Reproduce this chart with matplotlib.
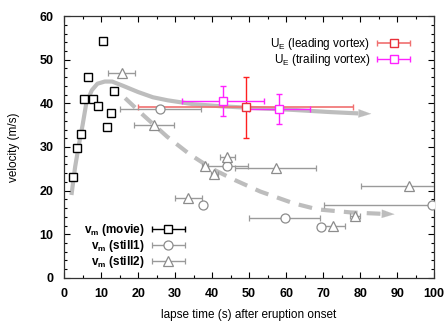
import numpy as np
import matplotlib
matplotlib.use("Agg")
import matplotlib.pyplot as plt
from matplotlib.legend_handler import HandlerErrorbar

plt.rcParams['font.family'] = ['Liberation Sans', 'DejaVu Sans']
plt.rcParams['mathtext.fontset'] = 'custom'
plt.rcParams['mathtext.rm'] = 'Liberation Sans'
plt.rcParams['mathtext.bf'] = 'Liberation Sans:bold'

# v_m from movie frames
t_movie = [2.5, 3.6, 4.5, 5.5, 6.6, 7.7, 9.1, 10.5, 11.5, 12.8, 13.6]
v_movie = [23.1, 29.7, 32.9, 41.1, 46.0, 41.1, 39.5, 54.3, 34.6, 37.9, 42.9]

# v_m from still1
t_still1 = [26.0, 37.6, 43.9, 59.6, 69.5, 99.3]
v_still1 = [38.6, 16.6, 25.6, 13.7, 11.7, 16.6]
e_still1 = [11.0, 0.0, 5.7, 9.5, 0.8, 29.0]

# v_m from still2
t_still2 = [15.6, 24.4, 33.6, 38.1, 40.6, 44.1, 57.2, 72.7, 78.6, 93.2]
v_still2 = [46.9, 35.0, 18.4, 25.7, 23.8, 27.8, 25.1, 11.9, 14.2, 21.1]
e_still2 = [3.6, 5.4, 3.6, 0.8, 1.0, 2.0, 11.0, 3.2, 1.3, 13.0]

# U_E
t_lead, v_lead, te_lead, ve_lead = [49.1], [39.1], [29.0], [7.0]
t_trail = [43.0, 58.2]
v_trail = [40.6, 38.7]
te_trail = [11.0, 8.2]
ve_trail = [3.4, 3.4]

# guide curves (last point = arrow tip)
t_solid = [2.0, 3.0, 4.0, 5.0, 6.0, 7.5, 9.0, 11.0, 13.0, 16.0, 20.0, 24.0,
           28.0, 35.0, 43.0, 52.0, 62.0, 72.0, 79.5, 83.0]
v_solid = [19.0, 25.5, 30.5, 35.0, 40.0, 43.0, 44.5, 45.0, 45.0, 44.0, 42.6,
           41.4, 40.7, 39.8, 39.3, 38.9, 38.5, 38.0, 37.7, 37.6]
t_dash = [16.5, 21.4, 27.8, 34.0, 40.0, 46.2, 53.0, 62.0, 68.5, 77.5, 85.5, 89.3]
v_dash = [41.2, 37.3, 32.4, 28.3, 25.0, 22.4, 19.8, 17.1, 15.7, 15.0, 14.7, 14.6]

curve_c = '#bdbdbd'
gray = '#8c8c8c'

fig = plt.figure(figsize=(4.48, 3.22), dpi=100)
ax = fig.add_axes([0.143, 0.137, 0.826, 0.813])

ax.plot(t_solid[:-1], v_solid[:-1], color=curve_c, lw=3.0, zorder=1,
        solid_capstyle='butt')
ax.annotate('', xy=(t_solid[-1], v_solid[-1]), xytext=(t_solid[-2], v_solid[-2]),
            arrowprops=dict(arrowstyle='-|>,head_length=0.9,head_width=0.3',
                            color=curve_c, lw=0.1, shrinkA=0, shrinkB=0,
                            mutation_scale=10), zorder=1)
ax.plot(t_dash[:-1], v_dash[:-1], color=curve_c, lw=3.0, zorder=1,
        dashes=(3.3, 2.2), dash_capstyle='butt')
ax.annotate('', xy=(t_dash[-1], v_dash[-1]), xytext=(t_dash[-2], v_dash[-2]),
            arrowprops=dict(arrowstyle='-|>,head_length=0.9,head_width=0.3',
                            color=curve_c, lw=0.1, shrinkA=0, shrinkB=0,
                            mutation_scale=10), zorder=1)

ms = 6.3
# U_E
h_lead = ax.errorbar(t_lead, v_lead, xerr=te_lead, fmt='s', ms=ms, mfc='white',
                     mec='#e8303a', color='#f07070', ecolor='#f07070',
                     elinewidth=1.2, capsize=2.5, mew=1.0, zorder=3)
ax.errorbar(t_lead, v_lead, yerr=ve_lead, fmt='none', ecolor='#ff2020',
            elinewidth=1.0, capsize=2.5, zorder=3)
h_trail = ax.errorbar(t_trail, v_trail, xerr=te_trail, fmt='s', ms=ms,
                      mfc='white', mec='#ff22ff', ecolor='#ff22ff',
                      elinewidth=1.0, capsize=2.5, mew=1.0, zorder=3)
ax.errorbar(t_trail, v_trail, yerr=ve_trail, fmt='none', ecolor='#ff22ff',
            elinewidth=1.0, capsize=2.5, zorder=3)

# v_m
ax.plot(t_movie, v_movie, 's', ms=ms, mfc='white', mec='black', mew=1.0, zorder=4)
h_movie = ax.errorbar([np.nan], [np.nan], xerr=[1], fmt='s', ms=ms, mfc='white',
                      mec='black', ecolor='black', elinewidth=1.0, capsize=2.5, mew=1.0)
h_s1 = ax.errorbar(t_still1, v_still1, xerr=e_still1, fmt='o', ms=6.5, mfc='white',
                   mec=gray, ecolor='#9a9a9a', elinewidth=1.0, capsize=2.0,
                   mew=0.9, zorder=3)
h_s2 = ax.errorbar(t_still2, v_still2, xerr=e_still2, fmt='^', ms=6.5, mfc='white',
                   mec=gray, ecolor='#9a9a9a', elinewidth=1.0, capsize=2.0,
                   mew=0.9, zorder=3)

ax.set_xlim(0, 100)
ax.set_ylim(0, 60)
ax.set_xticks(np.arange(0, 101, 10))
ax.set_xticks(np.arange(0, 101, 5), minor=True)
ax.set_yticks(np.arange(0, 61, 10))
ax.set_yticks(np.arange(0, 61, 2), minor=True)
ax.tick_params(which='both', direction='in', top=True, right=True, width=0.8,
               labelsize=9, pad=7.5)
ax.tick_params(which='major', length=4)
ax.tick_params(which='minor', length=2)
for lab in ax.get_xticklabels() + ax.get_yticklabels():
    lab.set_fontweight('bold')
for s in ax.spines.values():
    s.set_linewidth(0.9)
    s.set_color('#333333')

ax.set_xlabel('lapse time (s) after eruption onset', fontsize=8.5, labelpad=6)
ax.set_ylabel('velocity (m/s)', fontsize=8.5, labelpad=14)

hm = {h_lead: HandlerErrorbar(xerr_size=1.4, yerr_size=0.0),
      h_trail: HandlerErrorbar(xerr_size=1.4, yerr_size=0.0),
      h_movie: HandlerErrorbar(xerr_size=1.4, yerr_size=0.0),
      h_s1: HandlerErrorbar(xerr_size=1.4, yerr_size=0.0),
      h_s2: HandlerErrorbar(xerr_size=1.4, yerr_size=0.0)}

leg1 = ax.legend([h_lead, h_trail],
                 [r'U$_\mathrm{E}$ (leading vortex)', r'U$_\mathrm{E}$ (trailing vortex)'],
                 handler_map=hm, loc='upper right', bbox_to_anchor=(0.968, 0.965),
                 frameon=False, markerfirst=False, fontsize=8.5,
                 handlelength=3.0, handletextpad=0.5, labelspacing=0.0,
                 numpoints=1)
ax.add_artist(leg1)
ax.legend([h_movie, h_s1, h_s2],
          [r'v$_\mathbf{m}$ (movie)', r'v$_\mathbf{m}$ (still1)', r'v$_\mathbf{m}$ (still2)'],
          handler_map=hm, loc='upper right', bbox_to_anchor=(0.358, 0.255),
          frameon=False, markerfirst=False, prop={'size': 8.5, 'weight': 'bold'},
          handlelength=3.0, handletextpad=0.5, labelspacing=0.0,
          numpoints=1)

fig.savefig('out.png', dpi=100)
